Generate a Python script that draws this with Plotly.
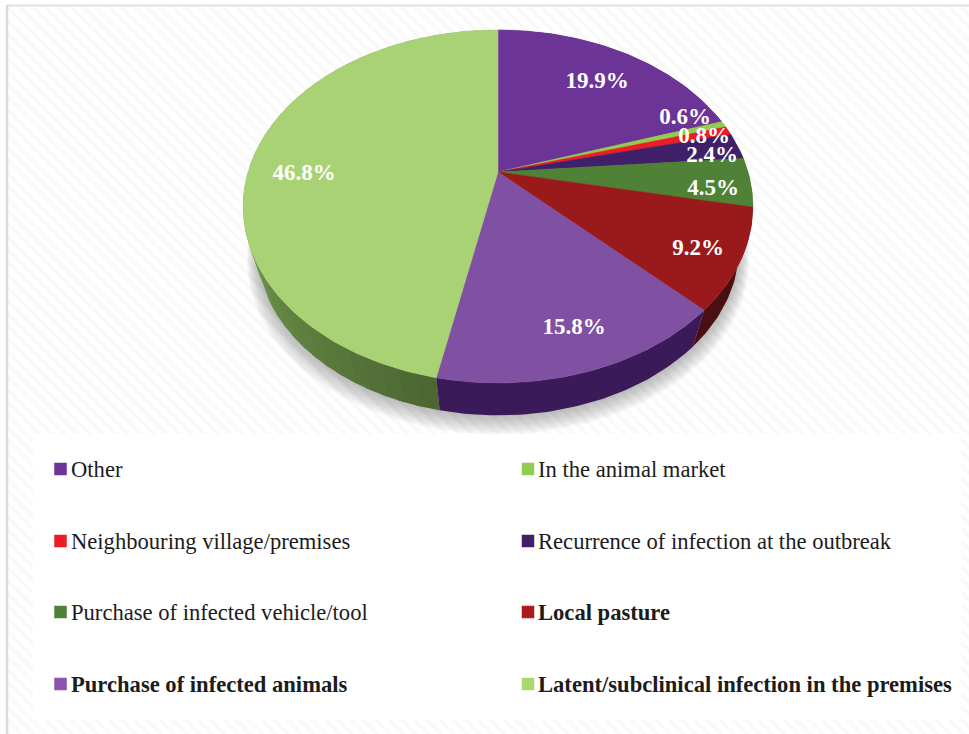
import numpy as np
import plotly.graph_objects as go

# ---------- data ----------
CATEGORIES = ["Other", "In the animal market", "Neighbouring village/premises",
              "Recurrence of infection at the outbreak", "Purchase of infected vehicle/tool",
              "Local pasture", "Purchase of infected animals",
              "Latent/subclinical infection in the premises"]
VALUES = [19.9, 0.6, 0.8, 2.4, 4.5, 9.2, 15.8, 46.8]

# ---------- styles ----------
FACE = ["#6c3497", "#93cc4f", "#ee1c25", "#402068", "#4f8136", "#9a1a1c", "#8050a3", "#a9d274"]
SWATCH = ["#6c3497", "#93cc4f", "#ee1c25", "#402068", "#4f8136", "#a81c22", "#8a55ab", "#a9d86f"]
WALL_START = ["#3a1a58", "#4f7a2c", "#7d1014", "#24103c", "#2f4d20", "#4a0f10", "#3a1a58", "#4a6631"]
WALL_END = ["#3a1a58", "#4f7a2c", "#7d1014", "#24103c", "#2f4d20", "#4a0f10", "#3a1a58", "#80aa56"]
BOLD = [False, False, False, False, False, True, True, True]
LABEL_XY = [(597, 82), (685, 118), (704, 137), (712, 156), (713, 189), (698, 249), (574, 328), (304, 174)]
LEGEND_ROW_Y = [469, 541, 612, 684]
LEGEND_SWATCH_X = [60.5, 528]
LEGEND_TEXT_X = [71, 538]
FONT = "Liberation Serif"

# ---------- projection of the tilted disc ----------
CX, CY, A, B, K = 498.0, 172.0, 250.0, 169.8, 0.195
LOW_SCALE, LOW_CY = 0.945, 216.0


def project(theta):
    u, v = np.sin(theta), np.cos(theta)
    w = 1 + K * v
    return A * u / w, -B * v / w


def top(theta):
    x, y = project(theta)
    return CX + x, CY + y


def low(theta, scale=LOW_SCALE, cy=LOW_CY):
    x, y = project(theta)
    return CX + scale * x, cy + scale * y


def arc(p0, p1):
    n = max(3, int(abs(p1 - p0) * 4))
    return np.linspace(p0, p1, n) / 100 * 2 * np.pi


def mix(c0, c1, t):
    a = [int(c0[i:i + 2], 16) for i in (1, 3, 5)]
    b = [int(c1[i:i + 2], 16) for i in (1, 3, 5)]
    return "rgb(%d,%d,%d)" % tuple(round(p + (q - p) * t) for p, q in zip(a, b))


def poly(xs, ys, color, line=0.6):
    return go.Scatter(x=list(xs), y=list(ys), mode="lines", fill="toself", fillcolor=color,
                      line=dict(color=color, width=line), hoverinfo="skip", showlegend=False)


fig = go.Figure()

# hatched page background and white legend panel
fig.add_trace(go.Scatter(x=[8, 969, 969, 8, 8], y=[6, 6, 734, 734, 6], mode="lines", fill="toself",
                         fillcolor="white", line=dict(width=0), hoverinfo="skip", showlegend=False,
                         fillpattern=dict(shape="\\", size=9, solidity=0.45, fgcolor="#f4f4f4", bgcolor="#ffffff")))
fig.add_trace(poly([33, 961, 961, 33, 33], [434, 434, 720, 720, 434], "#ffffff", 0))

# soft shadow
full = np.linspace(0, 2 * np.pi, 241)
for i in range(9):
    sx, sy = low(full, LOW_SCALE + 0.005 * i, LOW_CY + 1.2 * i + 1)
    fig.add_trace(poly(sx, sy, "rgba(110,110,110,0.06)", 0))

# side wall, then top face
edges = np.concatenate([[0], np.cumsum(VALUES)])
order = sorted(range(len(VALUES)), key=lambda j: -abs(edges[j] + VALUES[j] / 2 - 50))
for j in order:
    p0, p1 = edges[j], edges[j + 1]
    steps = 1 if WALL_START[j] == WALL_END[j] else max(1, int((p1 - p0) / 1.0))
    cuts = np.linspace(p0, p1, steps + 1)
    for s in range(steps):
        # each strip reaches a little under the next one so that no seam shows
        t = arc(cuts[s], min(cuts[s + 1] + 0.4, p1))
        xa, ya = top(t)
        xb, yb = low(t)
        frac = min(1.0, (s + 0.5) / steps / 0.5)
        col = mix(WALL_START[j], WALL_END[j], frac)
        fig.add_trace(poly(np.r_[xa, xb[::-1], xa[0]], np.r_[ya, yb[::-1], ya[0]], col, 0))

for j in range(len(VALUES)):
    t = arc(edges[j], edges[j + 1])
    xa, ya = top(t)
    fig.add_trace(poly(np.r_[CX, xa, CX], np.r_[CY, ya, CY], FACE[j], 0.5))

# percentage labels
fig.add_trace(go.Scatter(x=[p[0] for p in LABEL_XY], y=[p[1] for p in LABEL_XY], mode="text",
                         text=[f"{v:.1f}%" for v in VALUES], hoverinfo="skip", showlegend=False,
                         textfont=dict(family=FONT, size=23, color="#ffffff", weight="bold")))

# legend built from the categories
for j, name in enumerate(CATEGORIES):
    col, row = j % 2, j // 2
    y = LEGEND_ROW_Y[row]
    fig.add_trace(go.Scatter(x=[LEGEND_SWATCH_X[col]], y=[y], mode="markers", hoverinfo="skip", showlegend=False,
                             marker=dict(symbol="square", size=12.5, color=SWATCH[j], line=dict(width=0))))
    fig.add_annotation(x=LEGEND_TEXT_X[col], y=y, text=f"<b>{name}</b>" if BOLD[j] else name, showarrow=False,
                       xanchor="left", yanchor="middle", xshift=-2,
                       font=dict(family=FONT, size=22.6, color="#1c1c1c"))

# page frame
fig.add_shape(type="line", x0=7, x1=969, y0=5.5, y1=5.5, line=dict(color="#e2e2e2", width=2), layer="above")
fig.add_shape(type="line", x0=7, x1=7, y0=5, y1=734, line=dict(color="#dcdcdc", width=2.5), layer="above")

fig.update_layout(width=969, height=734, margin=dict(l=0, r=0, t=0, b=0), autosize=False,
                  paper_bgcolor="white", plot_bgcolor="white", showlegend=False,
                  xaxis=dict(range=[0, 969], visible=False, fixedrange=True),
                  yaxis=dict(range=[734, 0], visible=False, fixedrange=True))

fig.write_html("out.html", config=dict(displayModeBar=False),
               post_script="document.body.style.margin='0';document.documentElement.style.overflow='hidden';")
